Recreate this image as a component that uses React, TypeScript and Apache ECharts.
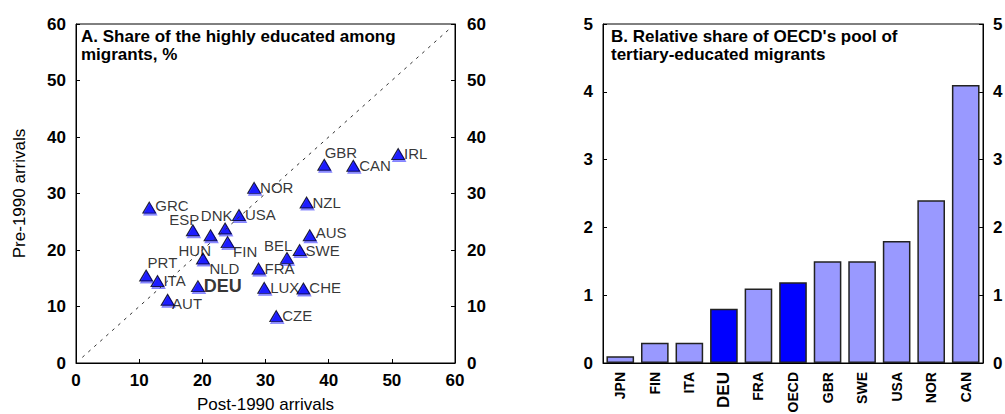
import React, { useEffect, useRef } from "react";
import * as echarts from "echarts";

// Panel A data
const countries = ["GBR", "CAN", "IRL", "NOR", "NZL", "GRC", "USA", "DNK", "ESP", "HUN", "FIN", "NLD", "AUS", "SWE", "BEL", "FRA", "PRT", "ITA", "DEU", "AUT", "LUX", "CHE", "CZE"];
const post1990 = [39.3, 43.9, 51.0, 28.2, 36.5, 11.6, 25.8, 23.6, 18.5, 21.3, 24.0, 20.1, 37.0, 35.4, 33.4, 28.9, 11.1, 12.9, 19.3, 14.5, 29.8, 36.0, 31.7];
const pre1990 = [35.1, 34.9, 37.0, 31.0, 28.4, 27.5, 26.2, 23.8, 23.5, 22.6, 21.4, 18.5, 22.6, 20.0, 18.6, 16.7, 15.5, 14.5, 13.6, 11.2, 13.3, 13.2, 8.3];
const diagonal = [[1, 1], [59, 59]];

// Panel B data
const barCategories = ["JPN", "FIN", "ITA", "DEU", "FRA", "OECD", "GBR", "SWE", "USA", "NOR", "CAN"];
const barValues = [0.1, 0.3, 0.3, 0.8, 1.1, 1.19, 1.5, 1.5, 1.8, 2.4, 4.1];
const highlighted = ["DEU", "OECD"];

const titleA = "A. Share of the highly educated among\nmigrants, %";
const titleB = "B. Relative share of OECD's pool of\ntertiary-educated migrants";

// label placement (style): offsets of label anchor from marker centre
const labelOffsets: Record<string, [number, number, string]> = {
  GBR: [1, -12, "left"],
  GRC: [6.5, -2, "left"],
  ESP: [7, -10, "right"],
  DNK: [8, -13, "right"],
  FIN: [6, 10, "left"],
  HUN: [1, 16, "right"],
  NLD: [7, 10, "left"],
  AUS: [6.5, -2, "left"],
  SWE: [6.5, 1, "left"],
  BEL: [6, -12, "right"],
  PRT: [2, -12, "left"],
  AUT: [5, 4, "left"],
};

const FONT = "'Liberation Sans', Arial, sans-serif";
const SYM_W = 13;
const SYM_H = 11;

export default function App() {
  const ref = useRef<HTMLDivElement>(null);
  useEffect(() => {
    if (!ref.current) return;
    const chart = echarts.init(ref.current, null, { renderer: "svg" });

    const scatterData = countries.map((c, i) => {
      const o = labelOffsets[c] || [6.5, 0, "left"];
      const isDeu = c === "DEU";
      return {
        name: c,
        value: [post1990[i], pre1990[i]],
        label: {
          show: true,
          formatter: c,
          position: [o[0] + SYM_W / 2, o[1] + SYM_H / 2],
          align: o[2],
          verticalAlign: "middle",
          fontSize: isDeu ? 18 : 15,
          fontWeight: isDeu ? "bold" : "normal",
          color: "#000",
          fontFamily: FONT,
        },
      };
    });

    const barData = barCategories.map((c, i) => ({
      value: barValues[i],
      itemStyle: { color: highlighted.includes(c) ? "#0000FF" : "#9999FF" },
    }));

    const valueAxisLabel = { color: "#000", fontSize: 17, fontWeight: "bold", fontFamily: FONT };
    const axisLine = { show: true, lineStyle: { color: "#000", width: 1 } };
    const axisTick = { show: true, inside: true, length: 4, lineStyle: { color: "#000", width: 1 } };

    chart.setOption({
      animation: false,
      textStyle: { fontFamily: FONT },
      grid: [
        { left: 76, top: 24, right: 550, bottom: 51, show: true, borderColor: "#000", borderWidth: 1, backgroundColor: "transparent", outerBoundsMode: "none", containLabel: false },
        { left: 603, top: 24, right: 22, bottom: 51, show: true, borderColor: "#000", borderWidth: 1, backgroundColor: "transparent", outerBoundsMode: "none", containLabel: false },
      ],
      xAxis: [
        {
          type: "value", gridIndex: 0, min: 0, max: 60, interval: 10,
          axisLine, axisTick, splitLine: { show: false },
          axisLabel: { ...valueAxisLabel, margin: 9 },
          name: "Post-1990 arrivals", nameLocation: "middle", nameGap: 33,
          nameTextStyle: { fontSize: 17, color: "#000", fontFamily: FONT },
        },
        {
          type: "category", gridIndex: 1, data: barCategories,
          axisLine, axisTick: { show: false }, splitLine: { show: false },
          axisLabel: {
            rotate: 90, margin: 9, color: "#000", fontSize: 14, fontWeight: "bold", fontFamily: FONT,
            interval: 0,
            formatter: (v: string) => (v === "DEU" ? `{hl|${v}}` : v),
            rich: { hl: { fontSize: 17, fontWeight: "bold", color: "#000", fontFamily: FONT } },
          },
        },
      ],
      yAxis: [
        {
          type: "value", gridIndex: 0, min: 0, max: 60, interval: 10, position: "left",
          axisLine, axisTick, splitLine: { show: false },
          axisLabel: { ...valueAxisLabel, margin: 10 },
          name: "Pre-1990 arrivals", nameLocation: "middle", nameGap: 48,
          nameTextStyle: { fontSize: 17, color: "#000", fontFamily: FONT },
        },
        {
          type: "value", gridIndex: 0, min: 0, max: 60, interval: 10, position: "right",
          axisLine, axisTick, splitLine: { show: false },
          axisLabel: { ...valueAxisLabel, margin: 12 },
        },
        {
          type: "value", gridIndex: 1, min: 0, max: 5, interval: 1, position: "left",
          axisLine, axisTick, splitLine: { show: false },
          axisLabel: { ...valueAxisLabel, margin: 10 },
        },
        {
          type: "value", gridIndex: 1, min: 0, max: 5, interval: 1, position: "right",
          axisLine, axisTick, splitLine: { show: false },
          axisLabel: { ...valueAxisLabel, margin: 10 },
        },
      ],
      series: [
        {
          type: "line", xAxisIndex: 0, yAxisIndex: 0, data: diagonal,
          symbol: "none", silent: true,
          lineStyle: { color: "#333", width: 1, type: [3, 5] },
        },
        {
          type: "scatter", xAxisIndex: 0, yAxisIndex: 0, data: scatterData,
          symbol: "triangle", symbolSize: [SYM_W, SYM_H],
          itemStyle: {
            color: "#0000FF", borderColor: "#000", borderWidth: 1,
            shadowColor: "rgba(0,0,255,0.55)", shadowOffsetX: 1, shadowOffsetY: 2, shadowBlur: 0,
          },
        },
        {
          type: "bar", xAxisIndex: 1, yAxisIndex: 2, data: barData,
          barWidth: "80%",
          itemStyle: { borderColor: "#222", borderWidth: 1.5 },
        },
      ],
      graphic: [
        {
          type: "text", left: 81, top: 27,
          style: { text: titleA, fontSize: 17, fontWeight: "bold", fill: "#000", fontFamily: FONT, lineHeight: 18 },
        },
        {
          type: "text", left: 611, top: 27,
          style: { text: titleB, fontSize: 17, fontWeight: "bold", fill: "#000", fontFamily: FONT, lineHeight: 18 },
        },
      ],
    });
    return () => chart.dispose();
  }, []);
  return <div ref={ref} style={{ position: "absolute", left: 0, top: 0, width: 1005, height: 414 }} />;
}
